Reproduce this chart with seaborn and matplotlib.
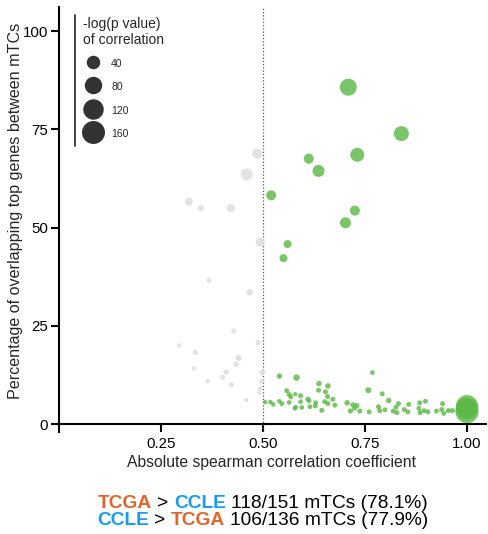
import numpy as np
import pandas as pd
import seaborn as sns
import matplotlib.pyplot as plt
from matplotlib.lines import Line2D
from matplotlib.offsetbox import TextArea, HPacker, VPacker, AnchoredOffsetbox

sns.set_theme(style="ticks")
plt.rcParams['font.family'] = ['Liberation Sans', 'DejaVu Sans']

# Absolute Spearman correlation between paired mTCs
corr = [
    0.709, 0.839, 0.731, 0.612, 0.636, 0.520, 0.725, 0.702, 0.560, 0.550,
    0.540, 0.582, 0.637, 0.659, 0.768, 0.758, 0.558, 0.636, 0.653, 0.564,
    0.568, 0.579, 0.592, 0.610, 0.658, 0.671, 0.613, 0.505, 0.518, 0.525,
    0.546, 0.564, 0.592, 0.629, 0.651, 0.676, 0.659, 0.706, 0.720, 0.730,
    0.580, 0.615, 0.628, 0.644, 0.714, 0.737, 0.724, 0.760, 0.792, 0.808,
    0.832, 0.857, 0.884, 0.898, 0.940, 0.783, 0.786, 0.799, 0.819, 0.826,
    0.828, 0.846, 0.855, 0.882, 0.885, 0.895, 0.904, 0.925, 0.938, 0.943,
    0.954, 0.964, 0.578, 0.595, 0.540,
    0.486, 0.460, 0.318, 0.348, 0.421, 0.493, 0.368, 0.467, 0.428, 0.294,
    0.334, 0.488, 0.440, 0.434, 0.331, 0.410, 0.498, 0.401, 0.364, 0.497,
    0.422, 0.494, 0.491, 0.459,
    0.999, 1.000, 1.000,
]
# Percentage of overlapping top genes
overlap = [
    85.7, 73.9, 68.5, 67.5, 64.4, 58.2, 54.3, 51.2, 45.8, 42.2,
    12.2, 11.8, 10.3, 9.7, 13.1, 8.6, 8.5, 8.6, 8.2, 7.5,
    6.9, 7.6, 7.2, 6.3, 7.0, 6.3, 5.9, 5.6, 5.6, 5.0,
    5.2, 5.5, 5.7, 5.4, 5.7, 4.8, 5.2, 5.4, 4.9, 4.7,
    4.3, 4.4, 4.6, 3.5, 3.3, 3.3, 4.0, 3.1, 7.7, 6.0,
    5.2, 5.0, 5.4, 5.8, 5.2, 4.4, 3.4, 3.6, 3.3, 4.3,
    2.9, 3.7, 3.1, 4.0, 2.9, 3.4, 3.1, 3.3, 3.7, 2.7,
    3.4, 3.4, 4.0, 4.2, 5.8,
    68.8, 63.5, 56.6, 54.9, 54.9, 46.3, 36.6, 33.5, 23.7, 20.0,
    18.2, 20.7, 16.8, 15.2, 14.2, 13.2, 13.1, 11.9, 10.9, 10.9,
    10.0, 9.1, 8.0, 6.1,
    3.9, 4.5, 3.2,
]
# -log(p value) of the correlation
neglogp = [
    75, 54, 44, 16, 28, 16, 16, 22, 7, 7,
    1, 2.8, 1, 1, 0.2, 1.8, 0.4, 0.4, 0.4, 0.4,
    0.4, 0.05, 0.4, 0.4, 0.4, 0.4, 0.2, 0.1, 0.1, 0.1,
    0.2, 0.2, 0.2, 0.4, 0.4, 0.4, 0.4, 1, 0.6, 0.6,
    0.1, 0.3, 0.3, 0.4, 0.6, 0.6, 0.4, 0.4, 0.4, 1,
    0.4, 0.4, 0.4, 0.4, 0.4, 0.4, 0.4, 0.4, 0.4, 0.4,
    0.4, 0.4, 0.4, 0.4, 0.4, 0.4, 0.4, 0.4, 0.4, 0.4,
    0.6, 0.6, 0.2, 0.2, 0.1,
    16, 28, 7, 2, 7, 11, 0.5, 3, 0.5, 0.1,
    0.5, 0.5, 2, 0.5, 0.05, 1, 1.8, 0.5, 0.1, 0.5,
    0.5, 0.3, 0.1, 0.02,
    140, 150, 165,
]

legend_levels = [40, 80, 120, 160]
x_ticks = [0.25, 0.50, 0.75, 1.00]
x_ticklabels = ["0.25", "0.50", "0.75", "1.00"]
y_ticks = [0, 25, 50, 75, 100]
y_ticklabels = ["0", "25", "50", "75", "100"]

GREEN = "#5cb946"
GRAY = "#dcdcdc"
ORANGE = "#e0652c"
BLUE = "#1b9bf0"

df = pd.DataFrame({"corr": corr, "overlap": overlap, "neglogp": neglogp})
df["group"] = np.where(df["corr"] >= 0.5, "above", "below")


def marker_area(v):
    """Marker area (pt^2): diameter grows with sqrt(-log p)."""
    d = (4.0 + 1.5 * np.sqrt(v)) * 0.72
    return d * d


size_lookup = {v: marker_area(v) for v in np.unique(df["neglogp"])}

fig = plt.figure(figsize=(4.88, 5.34), dpi=100)
ax = fig.add_axes([0.116, 0.1912, 0.8795, 0.7949])

sns.scatterplot(
    data=df, x="corr", y="overlap",
    hue="group", palette={"above": GREEN, "below": GRAY},
    size="neglogp", sizes=size_lookup,
    linewidth=0, alpha=0.82, legend=False, ax=ax, zorder=3,
)

ax.axvline(0.5, color="#555555", lw=0.9, ls=(0, (1, 1.6)), zorder=1)

ax.set_xlim(-0.006, 1.046)
ax.set_ylim(-2, 106)
ax.spines["top"].set_visible(False)
ax.spines["right"].set_visible(False)
ax.spines["left"].set_position(("data", 0))
ax.spines["bottom"].set_position(("data", 0))
for s in ("left", "bottom"):
    ax.spines[s].set_linewidth(1.5)
    ax.spines[s].set_color("black")

ax.set_xticks(x_ticks, x_ticklabels)
ax.set_yticks(y_ticks, y_ticklabels)
ax.tick_params(direction="out", length=6, width=1.5, labelsize=10.8, colors="black")
ax.tick_params(axis="y", pad=2)
ax.tick_params(axis="x", pad=3)
ax.set_xlabel("Absolute spearman correlation coefficient", fontsize=11.3, labelpad=3)
ax.set_ylabel("Percentage of overlapping top genes between mTCs", fontsize=11.6)
ax.yaxis.set_label_coords(-0.079, 0.52)

# size legend
handles = [
    Line2D([], [], marker="o", ls="", color="#333333", markeredgewidth=0,
           markersize=np.sqrt(marker_area(v)), label=str(v))
    for v in legend_levels
]
leg = ax.legend(
    handles=handles, title="-log(p value)\nof correlation",
    loc="upper left", bbox_to_anchor=(83 / 488, 1 - 17 / 534),
    bbox_transform=fig.transFigure, frameon=False, fontsize=7.5,
    title_fontsize=10, handleheight=1.6, labelspacing=0.95,
    handlelength=2.0, handletextpad=0.7, borderpad=0, borderaxespad=0,
    alignment="left",
)
fig.add_artist(Line2D([75 / 488, 75 / 488], [1 - 15 / 534, 1 - 146 / 534],
                      transform=fig.transFigure, color="#333333", lw=1.3))


def summary_line(first, first_color, second, second_color, rest):
    bold = dict(fontsize=13.8, fontweight="bold")
    plain = dict(fontsize=13.8, color="black")
    return HPacker(children=[
        TextArea(first, textprops=dict(color=first_color, **bold)),
        TextArea(">", textprops=plain),
        TextArea(second, textprops=dict(color=second_color, **bold)),
        TextArea(rest, textprops=plain),
    ], align="baseline", pad=0, sep=3.8)


summary = VPacker(children=[
    summary_line("TCGA", ORANGE, "CCLE", BLUE, "118/151 mTCs (78.1%)"),
    summary_line("CCLE", BLUE, "TCGA", ORANGE, "106/136 mTCs (77.9%)"),
], align="center", pad=0, sep=0)
fig.add_artist(AnchoredOffsetbox(
    loc="center", child=summary, frameon=False, pad=0, borderpad=0,
    bbox_to_anchor=(263 / 488, 1 - 512 / 534), bbox_transform=fig.transFigure,
))

fig.savefig("out.png", dpi=100)
